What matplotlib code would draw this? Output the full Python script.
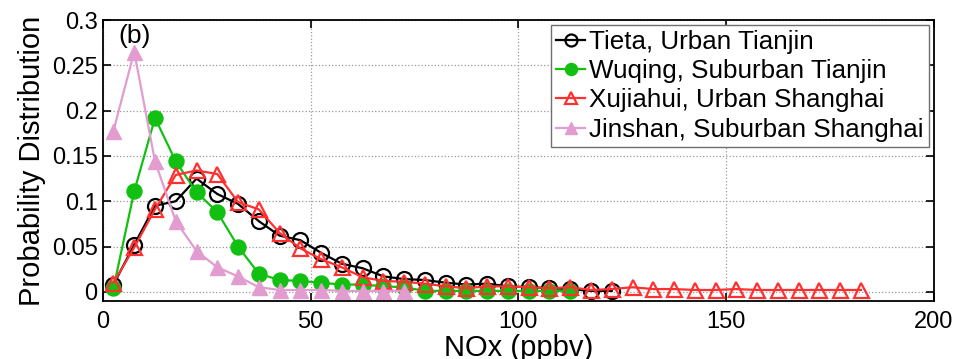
import matplotlib

matplotlib.use("Agg")

import matplotlib.pyplot as plt  # noqa: E402
import numpy as np  # noqa: E402

# NOx bins (ppbv), bin centres every 5 ppbv
bin_start = 2.5
bin_step = 5.0

tieta = [0.008, 0.052, 0.095, 0.100, 0.125, 0.108, 0.097, 0.078, 0.062, 0.057,
         0.043, 0.031, 0.026, 0.017, 0.014, 0.013, 0.010, 0.008, 0.009, 0.006,
         0.005, 0.004, 0.003, 0.001, 0.001]
wuqing = [0.004, 0.111, 0.192, 0.144, 0.110, 0.088, 0.050, 0.020, 0.013, 0.012,
          0.010, 0.008, 0.008, 0.006, 0.005, 0.001, 0.001, 0.001, 0.001, 0.001,
          0.001, 0.001, 0.001]
xujiahui = [0.010, 0.049, 0.091, 0.129, 0.134, 0.130, 0.099, 0.091, 0.065, 0.048,
            0.036, 0.027, 0.016, 0.012, 0.011, 0.009, 0.006, 0.004, 0.006, 0.006,
            0.005, 0.004, 0.005, 0.002, 0.003, 0.005, 0.003, 0.003, 0.002, 0.002,
            0.003, 0.002, 0.002, 0.002, 0.002, 0.002, 0.002]
jinshan = [0.178, 0.265, 0.144, 0.078, 0.045, 0.027, 0.017, 0.005, 0.002, 0.002,
           0.002, 0.001, 0.001, 0.001, 0.001]

labels = ["Tieta, Urban Tianjin", "Wuqing, Suburban Tianjin",
          "Xujiahui, Urban Shanghai", "Jinshan, Suburban Shanghai"]

yticks = [0, 0.05, 0.1, 0.15, 0.2, 0.25, 0.3]
ytick_labels = ["0", "0.05", "0.1", "0.15", "0.2", "0.25", "0.3"]
xticks = [0, 50, 100, 150, 200]


def centres(values):
    return bin_start + bin_step * np.arange(len(values))


plt.rcParams["font.family"] = ["Liberation Sans", "DejaVu Sans"]

fig = plt.figure(figsize=(9.59, 3.59), dpi=100)
ax = fig.add_axes([0.1075, 0.162, 0.866, 0.782])

ms = 10.8
lw = 1.6
ax.plot(centres(tieta), tieta, "-o", color="black", mfc="none", mec="black",
        ms=ms, mew=1.6, lw=lw, label=labels[0])
ax.plot(centres(wuqing), wuqing, "-o", color="#12c012", mfc="#12c012", mec="#12c012",
        ms=ms, lw=lw, label=labels[1])
ax.plot(centres(xujiahui), xujiahui, "-^", color="#ff3030", mfc="none", mec="#ff3030",
        ms=ms, mew=1.6, lw=lw, label=labels[2])
ax.plot(centres(jinshan), jinshan, "-^", color="#e29ccf", mfc="#e29ccf", mec="#e29ccf",
        ms=ms, lw=lw, label=labels[3])

ax.set_xlim(0, 200)
ax.set_ylim(-0.01, 0.3)
ax.set_xticks(xticks)
ax.set_yticks(yticks)
ax.set_yticklabels(ytick_labels)
ax.tick_params(axis="both", direction="in", length=6, width=1.2, top=True, right=True,
               labelsize=17)
ax.tick_params(axis="x", pad=7)
ax.tick_params(axis="y", pad=4)
ax.grid(True, linestyle=":", color="#9a9a9a", linewidth=0.9)
for spine in ax.spines.values():
    spine.set_linewidth(1.3)

ax.set_ylabel("Probability Distribution", fontsize=21, labelpad=4)
ax.set_xlabel("NOx (ppbv)", fontsize=21, labelpad=1)
ax.text(0.018, 0.985, "(b)", transform=ax.transAxes, fontsize=19, va="top", ha="left")

legend = ax.legend(loc="upper right", bbox_to_anchor=(0.994, 0.983), borderaxespad=0,
                   fontsize=18.7, handlelength=1.1, handletextpad=0.15,
                   labelspacing=0.2, borderpad=0.2, fancybox=False, framealpha=1,
                   markerscale=0.8)
legend.get_frame().set_edgecolor("#707070")
legend.get_frame().set_linewidth(1.0)

fig.savefig("out.png", dpi=100)
